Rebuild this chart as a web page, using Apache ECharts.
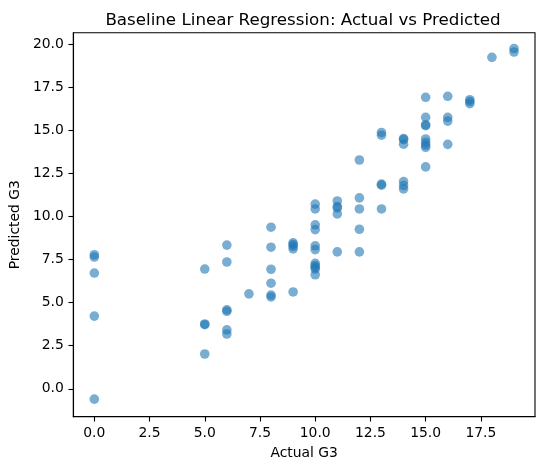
<!DOCTYPE html>
<html style="height: 100%">
<head>
    <meta charset="utf-8">
    <title>Actual vs Predicted</title>
    <script src="https://cdn.jsdelivr.net/npm/echarts@6/dist/echarts.min.js"></script>
</head>
<body style="height: 100%; margin: 0; background: #fff">
    <div id="main" style="width: 545px; height: 470px"></div>
    <script type="text/javascript">
        // actual G3 grade of each test student
        var actual = [
            0, 0, 0, 0, 0,
            5, 5, 5, 5,
            6, 6, 6, 6, 6, 6,
            7,
            8, 8, 8, 8, 8, 8,
            9, 9, 9, 9, 9,
            10, 10, 10, 10, 10, 10, 10, 10, 10, 10, 10,
            11, 11, 11, 11, 11,
            12, 12, 12, 12, 12,
            13, 13, 13, 13, 13,
            14, 14, 14, 14, 14, 14,
            15, 15, 15, 15, 15, 15, 15, 15, 15,
            16, 16, 16, 16,
            17, 17, 17,
            18,
            19, 19
        ];
        // model prediction for the same students
        var predicted = [
            7.78, 7.65, 6.72, 4.22, -0.60,
            6.95, 3.76, 3.72, 2.02,
            8.34, 7.36, 4.58, 4.50, 3.42, 3.18,
            5.51,
            9.38, 8.22, 6.94, 6.13, 5.44, 5.33,
            8.47, 8.38, 8.27, 8.12, 5.62,
            10.72, 10.44, 9.52, 9.24, 8.30, 8.08, 7.28, 7.15, 7.05, 6.95, 6.62,
            10.90, 10.58, 10.50, 10.15, 7.95,
            13.28, 11.08, 10.44, 9.26, 7.95,
            14.88, 14.72, 11.88, 11.82, 10.44,
            14.52, 14.47, 14.20, 12.03, 11.80, 11.60,
            16.92, 15.76, 15.32, 15.27, 14.50, 14.30, 14.15, 14.02, 12.88,
            16.98, 15.76, 15.54, 14.19,
            16.78, 16.68, 16.55,
            19.24,
            19.75, 19.55
        ];
        var xTicks = [0, 2.5, 5, 7.5, 10, 12.5, 15, 17.5];
        var yTicks = [0, 2.5, 5, 7.5, 10, 12.5, 15, 17.5, 20];

        var points = actual.map(function (a, i) { return [a, predicted[i]]; });

        var font = 'DejaVu Sans';
        var myChart = echarts.init(document.getElementById('main'), null, { renderer: 'canvas' });

        var option = {
            backgroundColor: '#fff',
            animation: false,
            textStyle: { fontFamily: font, color: '#000' },
            graphic: [{
                type: 'text',
                x: 303,
                y: 29,
                style: {
                    text: 'Baseline Linear Regression: Actual vs Predicted',
                    align: 'center',
                    verticalAlign: 'bottom',
                    font: '16.7px "DejaVu Sans"',
                    fill: '#000'
                }
            }],
            grid: {
                left: 70.7, right: 10, top: 32.7, bottom: 53.3,
                show: true,
                borderColor: '#000',
                borderWidth: 1.1,
                backgroundColor: 'transparent'
            },
            xAxis: {
                type: 'value',
                min: -0.95,
                max: 19.95,
                name: 'Actual G3',
                nameLocation: 'middle',
                nameGap: 30,
                nameTextStyle: { fontFamily: font, fontSize: 13.9, color: '#000' },
                splitLine: { show: false },
                axisLine: { show: true, onZero: false, lineStyle: { color: '#000', width: 1.1 } },
                axisTick: { show: true, length: 4.9, lineStyle: { color: '#000', width: 1.1 }, customValues: xTicks },
                axisLabel: {
                    margin: 9.5, fontSize: 13.9, color: '#000', fontFamily: font,
                    customValues: xTicks,
                    formatter: function (v) { return v.toFixed(1); }
                }
            },
            yAxis: {
                type: 'value',
                min: -1.62,
                max: 20.67,
                name: 'Predicted G3',
                nameLocation: 'middle',
                nameGap: 45,
                nameTextStyle: { fontFamily: font, fontSize: 13.9, color: '#000' },
                splitLine: { show: false },
                axisLine: { show: true, onZero: false, lineStyle: { color: '#000', width: 1.1 } },
                axisTick: { show: true, length: 4.9, lineStyle: { color: '#000', width: 1.1 }, customValues: yTicks },
                axisLabel: {
                    margin: 9.5, fontSize: 13.9, color: '#000', fontFamily: font,
                    customValues: yTicks,
                    formatter: function (v) { return v.toFixed(1); }
                }
            },
            series: [{
                type: 'scatter',
                data: points,
                symbol: 'circle',
                symbolSize: 9.6,
                itemStyle: { color: '#1f77b4', opacity: 0.6 }
            }]
        };

        myChart.setOption(option);
    </script>
</body>
</html>
